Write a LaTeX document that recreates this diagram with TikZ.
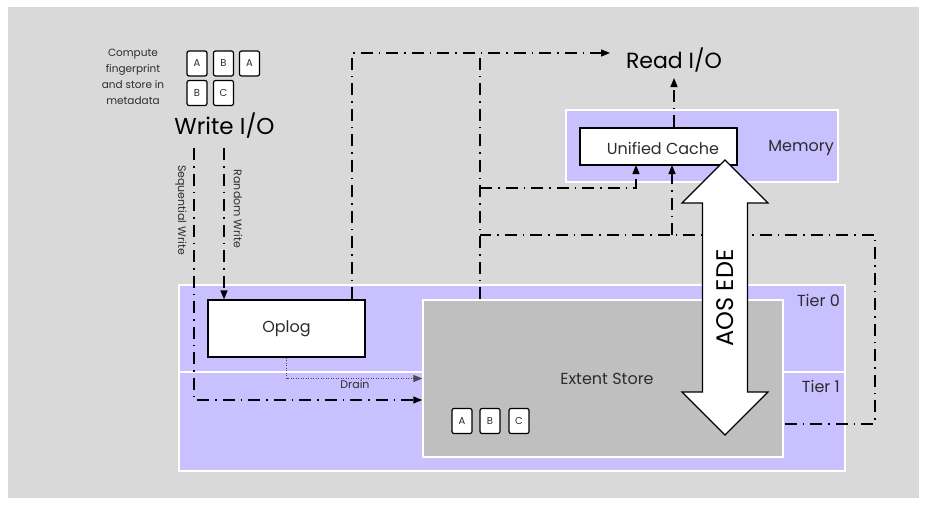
\documentclass[tikz,border=0pt]{standalone}
\usepackage{fontspec}
\setmainfont{Poppins}
\usetikzlibrary{arrows.meta}
\definecolor{bggray}{RGB}{217,217,217}
\definecolor{lav}{RGB}{200,192,255}
\definecolor{extgray}{RGB}{191,191,191}
\definecolor{txt}{RGB}{45,45,45}
\tikzset{
  region/.style={fill=lav, draw=white, line width=1.5pt, inner sep=0pt},
  whitebox/.style={fill=white, draw=black, line width=1.2pt, inner sep=0pt, text=txt, font=\fontsize{16}{18}\selectfont},
  chip/.style={fill=white, draw=black, line width=1.2pt, rounded corners=2pt, minimum width=20pt, minimum height=25pt, inner sep=0pt, text=txt, font=\fontsize{10}{11}\selectfont},
  lbl/.style={text=txt, inner sep=0pt, font=\fontsize{16}{18}\selectfont},
  small/.style={text=txt, inner sep=0pt, font=\fontsize{11}{13}\selectfont},
  big/.style={text=black, inner sep=0pt, font=\fontsize{22}{25}\selectfont},
  dd/.style={draw=black, line width=1.3pt, dash pattern=on 12pt off 6pt on 1.5pt off 6pt},
  arr/.style={-{Triangle[length=9pt,width=7pt]}},
  drainline/.style={draw=black!70, line width=1.2pt, dash pattern=on 1pt off 1.5pt},
}
\begin{document}
\begin{tikzpicture}[x=1pt,y=-1pt]
\useasboundingbox (0,0) rectangle (927,506);
\fill[white] (0,0) rectangle (927,506);
\fill[bggray] (8,7) rectangle (919,498);

% tiers
\node[region, minimum width=666pt, minimum height=87pt] (tier0) at (512,328.5) {};
\node[region, minimum width=666pt, minimum height=99pt] (tier1) at (512,421.5) {};
\node[lbl, anchor=east] (t0lbl) at (840,300) {Tier 0};
\node[lbl, anchor=east] (t1lbl) at (840,386) {Tier 1};

% extent store
\node[fill=extgray, draw=white, line width=1.5pt, minimum width=360pt, minimum height=157pt, inner sep=0pt] (extent) at (603,378.5) {};
\node[lbl] (extlbl) at (607,379) {Extent Store};
\node[chip] (ea) at (462,421) {A};
\node[chip] (eb) at (490,421) {B};
\node[chip] (ec) at (519,421) {C};

% oplog
\node[whitebox, minimum width=157pt, minimum height=57pt] (oplog) at (286.5,328.5) {Oplog};

% memory
\node[region, minimum width=272pt, minimum height=72pt] (memory) at (702,146) {};
\node[lbl, anchor=east] (memlbl) at (834,148) {Memory};
\node[whitebox, minimum width=157pt, minimum height=37pt] (cache) at (658.5,146.5) {};
\node[lbl] (cachelbl) at (663,148) {Unified Cache};

% top-left texts
\node[small, align=center, font=\fontsize{10.5}{16}\selectfont] (compute) at (133,77) {Compute\\fingerprint\\and store in\\metadata};
\node[chip] (c1) at (197,63.5) {A};
\node[chip] (c2) at (223.5,63.5) {B};
\node[chip] (c3) at (249.5,63.5) {A};
\node[chip] (c4) at (197,93) {B};
\node[chip] (c5) at (223.5,93) {C};
\node[big, font=\fontsize{23}{26}\selectfont] (write) at (224.5,126) {Write I/O};
\node[big] (read) at (674,60) {Read I/O};

% coordinates
\coordinate (seq0) at (194,148);
\coordinate (rnd0) at (224,148);
\coordinate (readIn) at (610,53);
\coordinate (readUp) at (674,78);
\coordinate (jTop) at (480,53);
\coordinate (jCache) at (480,188);
\coordinate (jMid) at (480,235);
\coordinate (rightTop) at (875,235);
\coordinate (rightBot) at (875,424);
\coordinate (cacheIn1) at (636,165);
\coordinate (cacheIn2) at (672,165);

% write paths
\draw[dd, arr] (seq0) |- ([yshift=-21.5pt]extent.west);
\node[small, rotate=-90] (seqlbl) at (181,210) {Sequential Write};
\draw[dd, arr] (rnd0) -- (rnd0 |- oplog.north);
\node[small, rotate=-90] (rndlbl) at (238,209) {Random Write};
\draw[drainline, arr] (oplog.south) |- (extent.west);
\node[small] (drain) at (355,384.5) {Drain};

% read paths
\draw[dd, arr] (oplog.north -| 352,0) |- (readIn);
\draw[dd] (extent.north -| jTop) -- (jTop);
\draw[dd, arr] (jCache) -| (cacheIn1);
\draw[dd] ([xshift=1pt]extent.east |- rightBot) -- (rightBot) -- (rightTop) -- (jMid);
\draw[dd, arr] (cacheIn2 |- jMid) -- (cacheIn2);
\draw[dd, arr] (cache.north -| readUp) -- (readUp);

% AOS EDE double arrow
\filldraw[fill=white, draw=black, line width=1.2pt, line join=miter]
  (725,160) -- (768,203) -- (747.5,203) -- (747.5,392) -- (768,392) -- (725,435)
  -- (682,392) -- (702.5,392) -- (702.5,203) -- (682,203) -- cycle;
\node[big, rotate=90, font=\fontsize{24}{27}\selectfont] (aos) at (725,298) {AOS EDE};
\end{tikzpicture}
\end{document}
